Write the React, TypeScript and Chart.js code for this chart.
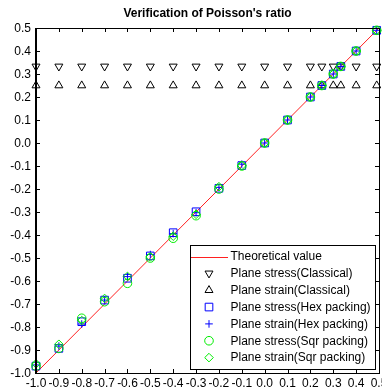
import React, { useEffect, useRef } from 'react';
import { Chart, registerables } from 'chart.js';
import { drawPoint } from 'chart.js/helpers';

Chart.register(...registerables);

const FONT = "'Liberation Sans', Arial, sans-serif";
const chartTitle = "Verification of Poisson's ratio";

// Poisson's ratio values (x) used for every marker series
const nuValues = [-1.0, -0.9, -0.8, -0.7, -0.6, -0.5, -0.4, -0.3, -0.2, -0.1, 0.0, 0.1, 0.2, 0.25, 0.3, 0.333, 0.4, 0.49];

const theoryX = [-1.0, 0.5];
const theoryY = [-1.0, 0.5];

const classicalStress = [0.333, 0.333, 0.333, 0.333, 0.333, 0.333, 0.333, 0.333, 0.333, 0.333, 0.333, 0.333, 0.333, 0.333, 0.333, 0.333, 0.333, 0.333];
const classicalStrain = [0.25, 0.25, 0.25, 0.25, 0.25, 0.25, 0.25, 0.25, 0.25, 0.25, 0.25, 0.25, 0.25, 0.25, 0.25, 0.25, 0.25, 0.25];
const hexStress = [-0.97, -0.893, -0.777, -0.683, -0.588, -0.491, -0.39, -0.299, -0.197, -0.098, 0.0, 0.1, 0.2, 0.25, 0.3, 0.333, 0.4, 0.49];
const hexStrain = [-0.965, -0.883, -0.787, -0.683, -0.581, -0.485, -0.394, -0.303, -0.193, -0.092, 0.0, 0.1, 0.2, 0.25, 0.3, 0.333, 0.4, 0.49];
const sqrStress = [-0.97, -0.893, -0.762, -0.69, -0.61, -0.5, -0.414, -0.316, -0.2, -0.1, 0.0, 0.1, 0.2, 0.25, 0.3, 0.333, 0.4, 0.49];
const sqrStrain = [-0.96, -0.875, -0.772, -0.676, -0.58, -0.495, -0.405, -0.31, -0.19, -0.098, 0.0, 0.1, 0.2, 0.25, 0.3, 0.333, 0.4, 0.49];

const xTickValues = [-1.0, -0.9, -0.8, -0.7, -0.6, -0.5, -0.4, -0.3, -0.2, -0.1, 0.0, 0.1, 0.2, 0.3, 0.4, 0.5];
const yTickValues = [-1.0, -0.9, -0.8, -0.7, -0.6, -0.5, -0.4, -0.3, -0.2, -0.1, 0.0, 0.1, 0.2, 0.3, 0.4, 0.5];

const legendLabels = [
  'Theoretical value',
  'Plane stress(Classical)',
  'Plane strain(Classical)',
  'Plane stress(Hex packing)',
  'Plane strain(Hex packing)',
  'Plane stress(Sqr packing)',
  'Plane strain(Sqr packing)',
];

const fmt = (v: number) => (Math.abs(v) < 1e-9 ? 0 : v).toFixed(1);
const pts = (xs: number[], ys: number[]) => xs.map((x, i) => ({ x, y: ys[i] }));

const framePlugin = {
  id: 'frame',
  afterDraw(chart: any) {
    const { ctx, chartArea } = chart;
    const { left, right, top, bottom } = chartArea;
    const xs = chart.scales.x;
    const ys = chart.scales.y;
    ctx.save();
    // title
    ctx.fillStyle = '#000';
    ctx.font = `bold 12px ${FONT}`;
    ctx.textAlign = 'center';
    ctx.textBaseline = 'middle';
    ctx.fillText(chartTitle, (left + right) / 2, 14);

    // tick labels
    ctx.font = `12px ${FONT}`;
    ctx.textAlign = 'center';
    ctx.textBaseline = 'middle';
    for (const v of xTickValues) {
      ctx.fillText(fmt(v), xs.getPixelForValue(v), 384);
    }
    ctx.textAlign = 'right';
    for (const v of yTickValues) {
      ctx.fillText(fmt(v), left - 5, ys.getPixelForValue(v) + 0.5);
    }

    // inward ticks
    ctx.strokeStyle = '#000';
    ctx.lineWidth = 1;
    ctx.beginPath();
    for (const v of xTickValues) {
      const px = Math.round(xs.getPixelForValue(v)) + 0.5;
      ctx.moveTo(px, bottom);
      ctx.lineTo(px, bottom - 4);
      ctx.moveTo(px, top);
      ctx.lineTo(px, top + 4);
    }
    for (const v of yTickValues) {
      const py = Math.round(ys.getPixelForValue(v)) + 0.5;
      ctx.moveTo(left, py);
      ctx.lineTo(left + 4, py);
      ctx.moveTo(right, py);
      ctx.lineTo(right - 4, py);
    }
    ctx.stroke();

    // box
    ctx.strokeRect(Math.round(left) + 0.5, Math.round(top) + 0.5, Math.round(right - left), Math.round(bottom - top));
    ctx.lineWidth = 2;
    ctx.beginPath();
    ctx.moveTo(Math.round(left), Math.round(top));
    ctx.lineTo(Math.round(left), Math.round(bottom) + 1);
    ctx.stroke();

    // legend
    const lx = 190.5, ly = 245.5, lw = 185, lh = 124;
    ctx.fillStyle = '#fff';
    ctx.fillRect(lx, ly, lw, lh);
    ctx.lineWidth = 1;
    ctx.strokeStyle = '#000';
    ctx.strokeRect(lx, ly, lw, lh);
    ctx.font = `12px ${FONT}`;
    ctx.textAlign = 'left';
    ctx.textBaseline = 'middle';
    chart.data.datasets.forEach((ds: any, i: number) => {
      const ry = 256.5 + i * 16.85;
      if (ds.showLine) {
        ctx.strokeStyle = ds.borderColor;
        ctx.lineWidth = ds.borderWidth;
        ctx.beginPath();
        ctx.moveTo(191, Math.round(ry) + 0.5);
        ctx.lineTo(228, Math.round(ry) + 0.5);
        ctx.stroke();
      } else {
        ctx.strokeStyle = ds.pointBorderColor;
        ctx.fillStyle = 'rgba(0,0,0,0)';
        ctx.lineWidth = ds.pointBorderWidth;
        drawPoint(ctx, { pointStyle: ds.pointStyle, rotation: ds.pointRotation || 0, radius: ds.pointRadius, borderWidth: ds.pointBorderWidth }, 209, ry);
      }
      ctx.fillStyle = '#000';
      ctx.fillText(ds.label, 230.5, ry + 0.5);
    });
    ctx.restore();
  },
};

export default function App() {
  const ref = useRef<HTMLCanvasElement>(null);
  useEffect(() => {
    if (!ref.current) return;
    const markerSets = [
      { y: classicalStress, style: 'triangle', rot: 180, color: '#000000', r: 4.6 },
      { y: classicalStrain, style: 'triangle', rot: 0, color: '#000000', r: 4.6 },
      { y: hexStress, style: 'rect', rot: 0, color: '#0000ff', r: 5.4 },
      { y: hexStrain, style: 'cross', rot: 0, color: '#0000ff', r: 3.8 },
      { y: sqrStress, style: 'circle', rot: 0, color: '#00ee00', r: 4.3 },
      { y: sqrStrain, style: 'rectRot', rot: 0, color: '#00ee00', r: 4.3 },
    ];
    const datasets: any[] = [
      {
        label: legendLabels[0],
        data: pts(theoryX, theoryY),
        showLine: true,
        borderColor: '#ff2020',
        borderWidth: 1,
        pointRadius: 0,
        clip: false,
        order: 10,
      },
      ...markerSets.map((m, i) => ({
        label: legendLabels[i + 1],
        data: pts(nuValues, m.y),
        showLine: false,
        pointStyle: m.style,
        pointRotation: m.rot,
        pointRadius: m.r,
        pointBorderColor: m.color,
        pointBackgroundColor: 'rgba(0,0,0,0)',
        pointBorderWidth: 1,
        borderColor: m.color,
        backgroundColor: 'rgba(0,0,0,0)',
        clip: false,
        order: 9 - i,
      })),
    ];
    const chart = new Chart(ref.current, {
      type: 'scatter',
      data: { datasets },
      options: {
        animation: false,
        responsive: false,
        events: [],
        layout: { autoPadding: false, padding: { top: 28, right: 3, left: 36, bottom: 19 } },
        plugins: { legend: { display: false }, title: { display: false }, tooltip: { enabled: false } },
        scales: {
          x: {
            type: 'linear',
            display: false,
            min: -1.0,
            max: 0.5,
          },
          y: {
            type: 'linear',
            display: false,
            min: -1.0,
            max: 0.5,
          },
        },
      },
      plugins: [framePlugin],
    });
    return () => chart.destroy();
  }, []);
  return (
    <div style={{ position: 'absolute', left: 0, top: 0, width: 382, height: 392, background: '#fff' }}>
      <canvas ref={ref} width={382} height={392} style={{ display: 'block' }} />
    </div>
  );
}
